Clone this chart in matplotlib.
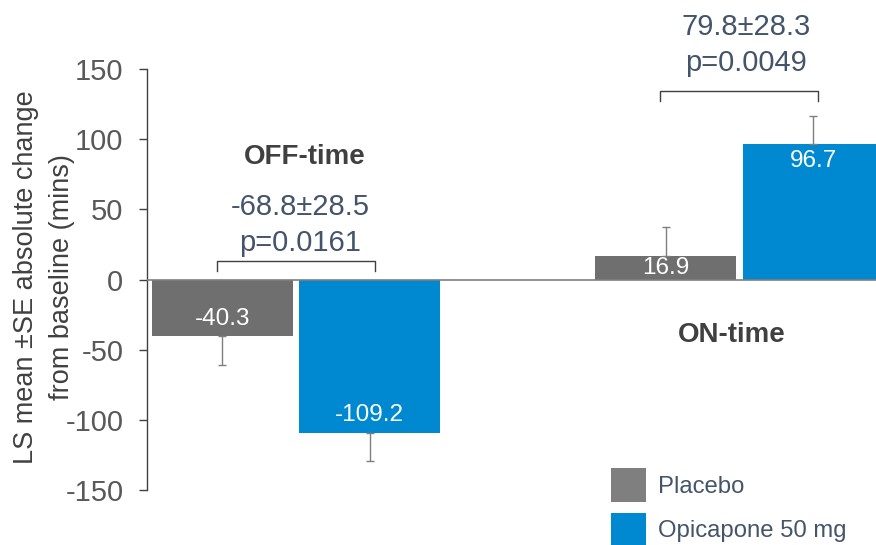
#!/usr/bin/env python3
"""LS mean change from baseline in OFF-time and ON-time, placebo vs opicapone 50 mg."""
import numpy as np
import matplotlib.pyplot as plt
from matplotlib.patches import Patch

plt.rcParams["font.family"] = ["Liberation Sans", "DejaVu Sans"]
plt.rcParams["axes.unicode_minus"] = False

ENDPOINTS = ["OFF-time", "ON-time"]
TREATMENTS = ["Placebo", "Opicapone 50 mg"]
PLACEBO = [-40.3, 16.9]
OPICAPONE = [-109.2, 96.7]
PLACEBO_SE = [20.5, 20.3]
OPICAPONE_SE = [20.0, 20.0]
DIFF_LABELS = ["-68.8±28.5", "79.8±28.3"]
P_LABELS = ["p=0.0161", "p=0.0049"]
YTICKS = [-150, -100, -50, 0, 50, 100, 150]
YLABEL_LINES = ["LS mean ±SE absolute change", "from baseline (mins)"]

GREY = "#6f6f6f"
BLUE = "#0089d0"
TEXT_DARK = "#404040"
TEXT_SLATE = "#44546a"


def value_label_y(v):
    if abs(v) < 25:
        return v / 2
    return v - np.sign(v) * 12.5


def main() -> None:
    fig = plt.figure(figsize=(8.76, 5.45), dpi=100)
    ax = fig.add_axes([0.1678, 0.1009, 0.8322, 0.7725])

    x = np.arange(len(ENDPOINTS))
    width = 0.318
    offset = 0.166
    series = [(PLACEBO, PLACEBO_SE, GREY, -offset), (OPICAPONE, OPICAPONE_SE, BLUE, offset)]
    for values, se, color, dx in series:
        vals = np.array(values)
        ax.bar(x + dx, vals, width, color=color, zorder=2)
        # error bars only in the direction the bar points
        lower = np.where(vals < 0, se, 0)
        upper = np.where(vals > 0, se, 0)
        ax.errorbar(x + dx, vals, yerr=[lower, upper], fmt="none", ecolor="#7f7f7f",
                    elinewidth=1.0, capsize=3, capthick=1.0, zorder=3)
        for xi, v in zip(x + dx, vals):
            ax.text(xi, value_label_y(v), f"{v:.1f}", ha="center", va="center",
                    color="white", fontsize=17.5, zorder=4)

    ax.axhline(0, color="#7f7f7f", linewidth=1.2, zorder=5)

    # significance brackets and between-group differences
    bracket_tops = [13.4, 134.6]
    leg = 7.5
    for xi, top in zip(x, bracket_tops):
        hw = 0.178
        ax.plot([xi - hw, xi - hw, xi + hw, xi + hw], [top - leg, top, top, top - leg],
                color=TEXT_DARK, linewidth=1.0, clip_on=False, zorder=6)
    ax.text(0.01, 52, DIFF_LABELS[0], ha="center", va="center", color=TEXT_SLATE, fontsize=21)
    ax.text(0.01, 26, P_LABELS[0], ha="center", va="center", color=TEXT_SLATE, fontsize=21)
    ax.text(1.015, 180, DIFF_LABELS[1], ha="center", va="center", color=TEXT_SLATE,
            fontsize=21, clip_on=False)
    ax.text(1.015, 154, P_LABELS[1], ha="center", va="center", color=TEXT_SLATE,
            fontsize=21, clip_on=False)

    ax.text(0.02, 87.5, ENDPOINTS[0], ha="center", va="center", color=TEXT_DARK,
            fontsize=20, fontweight="bold")
    ax.text(0.983, -39.6, ENDPOINTS[1], ha="center", va="center", color=TEXT_DARK,
            fontsize=20, fontweight="bold")

    ax.set_xlim(-0.336, 1.308)
    ax.set_ylim(-150, 150)
    ax.set_yticks(YTICKS)
    ax.set_xticks([])
    for side in ["top", "right", "bottom"]:
        ax.spines[side].set_visible(False)
    ax.spines["left"].set_color(TEXT_DARK)
    ax.spines["left"].set_linewidth(1.0)
    ax.tick_params(axis="y", direction="out", length=6, width=1.0, color=TEXT_DARK,
                   labelcolor="#595959", labelsize=21, pad=11)

    # two-line axis title, one text per line
    for line, xf in zip(YLABEL_LINES, [26 / 876, 62 / 876]):
        fig.text(xf, 1 - 277 / 545, line, rotation=90, ha="center", va="center",
                 color=TEXT_DARK, fontsize=19.5)

    handles = [Patch(facecolor="#7f7f7f"), Patch(facecolor=BLUE)]
    ax.legend(handles, TREATMENTS, loc="upper left",
              bbox_to_anchor=(611 / 876, 1 - 468 / 545), bbox_transform=fig.transFigure,
              frameon=False, fontsize=17.2, borderpad=0,
              handlelength=1.45, handleheight=1.8, handletextpad=0.5,
              labelspacing=0.45, borderaxespad=0, labelcolor=TEXT_SLATE)

    fig.savefig("out.png", dpi=100)
    plt.close(fig)


if __name__ == "__main__":
    main()
